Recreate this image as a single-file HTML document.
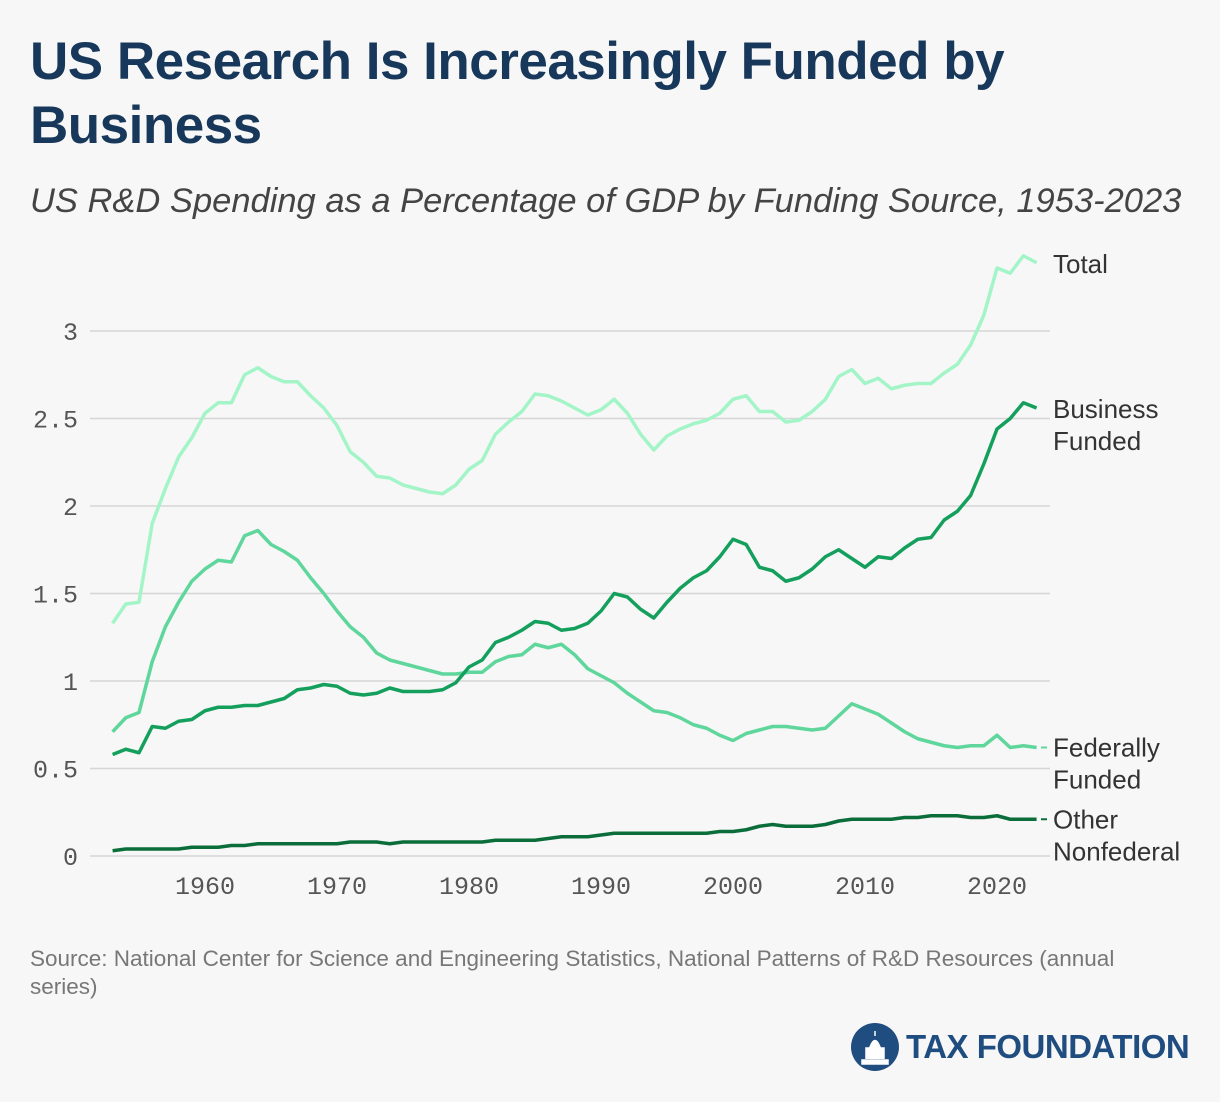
<!DOCTYPE html>
<html><head><meta charset="utf-8"><style>
body{margin:0;background:#f7f7f7;width:1220px;height:1102px;overflow:hidden;font-family:"Liberation Sans",sans-serif}
.t{position:absolute;left:30px;top:30px;font-size:53px;font-weight:bold;color:#17385a;line-height:64px;letter-spacing:-0.5px}
.s{position:absolute;left:30px;top:182px;font-size:34.5px;font-style:italic;color:#444}
.src{position:absolute;left:30px;top:945px;width:1150px;font-size:22.5px;color:#777;line-height:28px}
</style></head><body>
<div class="t">US Research Is Increasingly Funded by<br>Business</div>
<div class="s">US R&amp;D Spending as a Percentage of GDP by Funding Source, 1953-2023</div>
<svg id="c" width="1220" height="1102" style="position:absolute;left:0;top:0"></svg>
<div class="src">Source: National Center for Science and Engineering Statistics, National Patterns of R&amp;D Resources (annual series)</div>
<div style="position:absolute;left:850px;top:1022px;display:flex;align-items:center">
<svg width="50" height="50"><circle cx="25" cy="25" r="24" fill="#1f4d80"/><path d="M12 42 L38 42 L38 38 L12 38Z M16 37 V26 H34 V37 M20 25 Q25 12 30 25Z M25 9 V14" fill="#fff" stroke="#fff" stroke-width="1.5"/></svg>
<span style="margin-left:6px;font-size:33px;font-weight:bold;color:#1f4d80;letter-spacing:-0.5px">TAX FOUNDATION</span></div>
<script>
const years=[];for(let y=1953;y<=2023;y++)years.push(y);
const total=[1.33,1.44,1.45,1.90,2.10,2.28,2.39,2.53,2.59,2.59,2.75,2.79,2.74,2.71,2.71,2.63,2.56,2.46,2.31,2.25,2.17,2.16,2.12,2.10,2.08,2.07,2.12,2.21,2.26,2.41,2.48,2.54,2.64,2.63,2.60,2.56,2.52,2.55,2.61,2.53,2.41,2.32,2.40,2.44,2.47,2.49,2.53,2.61,2.63,2.54,2.54,2.48,2.49,2.54,2.61,2.74,2.78,2.70,2.73,2.67,2.69,2.70,2.70,2.76,2.81,2.92,3.09,3.36,3.33,3.43,3.39];
const business=[0.58,0.61,0.59,0.74,0.73,0.77,0.78,0.83,0.85,0.85,0.86,0.86,0.88,0.90,0.95,0.96,0.98,0.97,0.93,0.92,0.93,0.96,0.94,0.94,0.94,0.95,0.99,1.08,1.12,1.22,1.25,1.29,1.34,1.33,1.29,1.30,1.33,1.40,1.50,1.48,1.41,1.36,1.45,1.53,1.59,1.63,1.71,1.81,1.78,1.65,1.63,1.57,1.59,1.64,1.71,1.75,1.70,1.65,1.71,1.70,1.76,1.81,1.82,1.92,1.97,2.06,2.24,2.44,2.50,2.59,2.56];
const federal=[0.71,0.79,0.82,1.11,1.31,1.45,1.57,1.64,1.69,1.68,1.83,1.86,1.78,1.74,1.69,1.59,1.50,1.40,1.31,1.25,1.16,1.12,1.10,1.08,1.06,1.04,1.04,1.05,1.05,1.11,1.14,1.15,1.21,1.19,1.21,1.15,1.07,1.03,0.99,0.93,0.88,0.83,0.82,0.79,0.75,0.73,0.69,0.66,0.70,0.72,0.74,0.74,0.73,0.72,0.73,0.80,0.87,0.84,0.81,0.76,0.71,0.67,0.65,0.63,0.62,0.63,0.63,0.69,0.62,0.63,0.62];
const other=[0.03,0.04,0.04,0.04,0.04,0.04,0.05,0.05,0.05,0.06,0.06,0.07,0.07,0.07,0.07,0.07,0.07,0.07,0.08,0.08,0.08,0.07,0.08,0.08,0.08,0.08,0.08,0.08,0.08,0.09,0.09,0.09,0.09,0.10,0.11,0.11,0.11,0.12,0.13,0.13,0.13,0.13,0.13,0.13,0.13,0.13,0.14,0.14,0.15,0.17,0.18,0.17,0.17,0.17,0.18,0.20,0.21,0.21,0.21,0.21,0.22,0.22,0.23,0.23,0.23,0.22,0.22,0.23,0.21,0.21,0.21];
const yTicks=[0,0.5,1,1.5,2,2.5,3];
const yTickLabels=["0","0.5","1","1.5","2","2.5","3"];
const xTicks=[1960,1970,1980,1990,2000,2010,2020];
const X=y=>205+(y-1960)*13.2, Y=v=>856-v*175;
const svg=document.getElementById('c'),NS='http://www.w3.org/2000/svg';
function mk(t,a){const e=document.createElementNS(NS,t);for(const k in a)e.setAttribute(k,a[k]);svg.appendChild(e);return e;}
yTicks.forEach((v,i)=>{
 const l=mk('line',{x1:90,x2:1050,y1:Y(v),y2:Y(v),stroke:'#d6d6d6','stroke-width':1.5});
 
 
 const t=mk('text',{x:78,y:Y(v)+9,'text-anchor':'end','font-family':'Liberation Mono, monospace','font-size':25,fill:'#555'});
 t.textContent=yTickLabels[i];
 
 
});
xTicks.forEach(v=>{
 const t=mk('text',{x:X(v),y:894,'text-anchor':'middle','font-family':'Liberation Mono, monospace','font-size':25,fill:'#555'});
 t.textContent=v;
 
 
});
const series=[[total,'#a3f5c8','total-line'],[federal,'#5fd69b','federally-funded-line'],[business,'#14a05c','business-funded-line'],[other,'#0b6e3a','other-nonfederal-line']];
series.forEach(([d,c,n])=>{
 const p=mk('polyline',{points:d.map((v,i)=>X(years[i])+','+Y(v)).join(' '),fill:'none',stroke:c,'stroke-width':3.5,'stroke-linejoin':'round'});
 
 
});
const labels=[[['Total'],Y(total[70])+10,''],[['Business','Funded'],Y(business[70])+10,''],[['Federally','Funded'],Y(federal[70])+9,'#5fd69b'],[['Other','Nonfederal'],Y(other[70])+9,'#0b6e3a']];
const lnames=['total-label','business-funded-label','federally-funded-label','other-nonfederal-label'];
labels.forEach(([ls,y,dc],i)=>{
 if(dc){const d=mk('line',{x1:1041,x2:1047,y1:y-9,y2:y-9,stroke:dc,'stroke-width':2});
  
  }
 ls.forEach((s,j)=>{const t=mk('text',{x:1053,y:y+j*32,'font-size':26,fill:'#333','font-family':'Liberation Sans, sans-serif'});t.textContent=s;
 
 });
});
</script>
</body></html>
